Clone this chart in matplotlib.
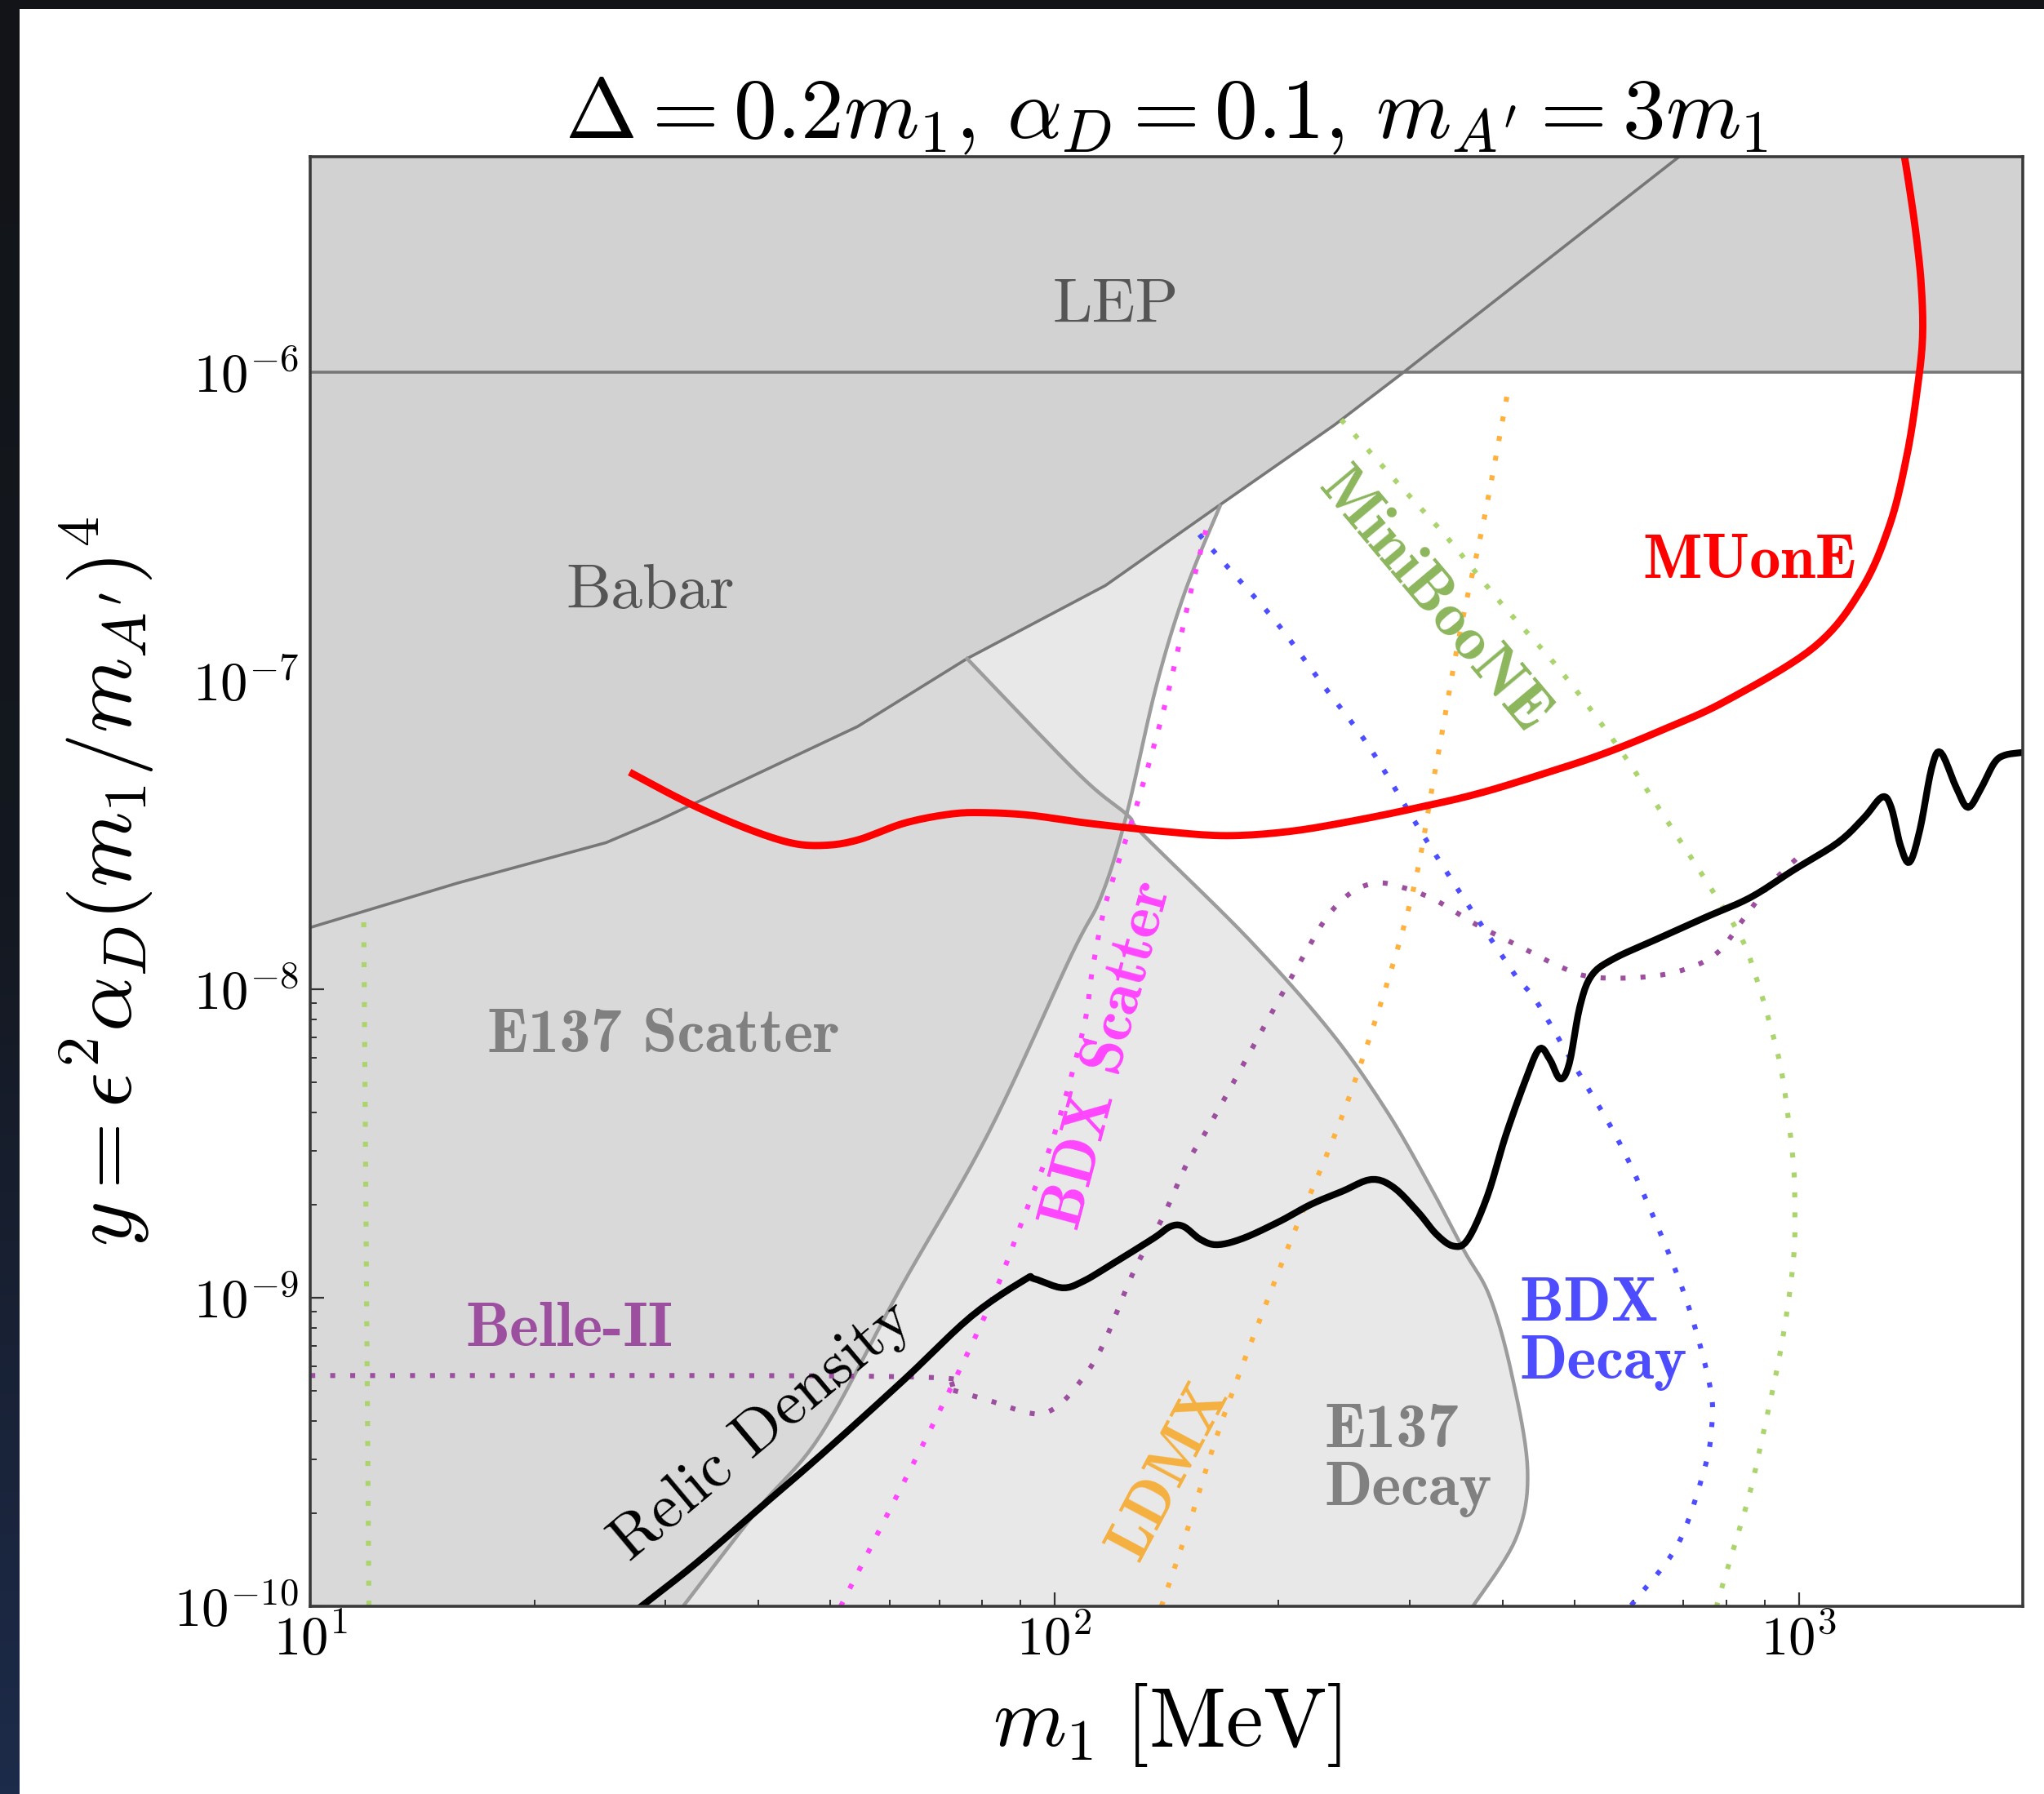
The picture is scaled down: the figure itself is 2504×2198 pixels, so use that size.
import numpy as np
import matplotlib.pyplot as plt
from matplotlib.patches import Rectangle
from matplotlib.colors import LinearSegmentedColormap
from matplotlib.ticker import FuncFormatter, LogLocator

plt.rcParams['mathtext.fontset'] = 'cm'
plt.rcParams['font.family'] = 'cmr10'
plt.rcParams['axes.unicode_minus'] = False

# --- limits (m1 in MeV, y dimensionless) ---
xlim = (10, 2000)
ylim = (1e-10, 5e-6)

# --- existing bounds ---
lep_y = 1e-6
babar_m = [10, 15.77, 24.97, 29.35, 54.39, 76.3, 117.1, 164.2, 237.9, 292.4, 692.6]
babar_y = [1.587e-8, 2.211e-8, 2.99e-8, 3.528e-8, 7.115e-8, 1.181e-7, 2.039e-7,
           3.622e-7, 6.76e-7, 9.88e-7, 5.03e-6]

e137s_m = [31.69, 40.05, 48.59, 62.14, 81.42, 105.4, 115.6, 124.8, 136.9, 149.7, 166.9]
e137s_y = [1e-10, 2.077e-10, 3.62e-10, 1.078e-9, 3.404e-9, 1.293e-8, 2.005e-8,
           3.633e-8, 9.54e-8, 1.941e-7, 3.693e-7]

e137d_m = [76.3, 108.0, 125.4, 131.6, 182.4, 235.1, 279.8, 319.5, 354.7, 384.6,
           411.8, 432.2, 416.9, 364.9]
e137d_y = [1.181e-7, 4.962e-8, 3.668e-8, 3.17e-8, 1.454e-8, 7.278e-9, 4.016e-9,
           2.305e-9, 1.43e-9, 1.007e-9, 5.61e-10, 2.755e-10, 1.66e-10, 1e-10]

# --- projections (dotted) ---
belle_m = [10, 62.9, 71.55, 81.42, 92.6, 98.8, 105.4, 115.2, 127.9, 139.8, 150.9, 162.9,
           201.7, 215.1, 232.3, 250.8, 270.8, 292.4, 324.7, 369.3, 420.3, 478.1, 528.8,
           618.9, 704.0, 778.7, 844.1, 915.2, 1012]
belle_y = [5.6e-10, 5.55e-10, 5.09e-10, 4.66e-10, 4.23e-10, 4.31e-10, 4.94e-10, 6.75e-10,
           1.224e-9, 1.825e-9, 2.748e-9, 3.752e-9, 9.56e-9, 1.256e-8, 1.716e-8, 2.065e-8,
           2.211e-8, 2.147e-8, 1.948e-8, 1.619e-8, 1.384e-8, 1.184e-8, 1.096e-8, 1.096e-8,
           1.162e-8, 1.319e-8, 1.699e-8, 2.189e-8, 2.766e-8]

bdxs_m = [51.6, 59.7, 69.85, 81.42, 90.05, 100.0, 109.3, 112.4, 116.5, 121.4, 129.5,
          141.4, 152.7, 160.3]
bdxs_y = [1e-10, 1.997e-10, 4.23e-10, 9.22e-10, 1.72e-9, 3.404e-9, 7.42e-9, 1.151e-8,
          1.801e-8, 2.509e-8, 4.084e-8, 8.73e-8, 1.98e-7, 3.19e-7]

bdxd_m = [156.5, 170.3, 198.5, 228.6, 264.3, 308.0, 350.4, 398.7, 420.3, 444.6, 499.8,
          570.9, 634.0, 707.0, 760.2, 763.3, 745.1, 687.3, 601.6, 594.5]
bdxd_y = [2.981e-7, 2.36e-7, 1.552e-7, 9.82e-8, 6.15e-8, 3.36e-8, 2.065e-8, 1.293e-8,
          1.075e-8, 9.11e-9, 5.65e-9, 3.273e-9, 1.897e-9, 9.78e-10, 5.14e-10, 3.726e-10,
          2.729e-10, 1.58e-10, 1.04e-10, 1e-10]

ldmx_m = [139.2, 150.9, 168.9, 205.0, 248.8, 298.4, 324.7, 350.4, 378.4, 408.5]
ldmx_y = [1e-10, 1.777e-10, 4.15e-10, 1.416e-9, 4.47e-9, 1.784e-8, 5.11e-8, 1.422e-7,
          3.417e-7, 9.23e-7]

mb_low_m = [11.80, 11.99]
mb_low_y = [1.65e-8, 1e-10]
mb_m = [242.8, 285.4, 336.6, 398.7, 478.1, 570.9, 649.4, 760.2, 837.3, 871.9, 907.8,
        945.2, 968.3, 984.0, 987.9, 984.0, 948.9, 893.3, 861.4, 827.3, 785.0, 775.7]
mb_y = [7.03e-7, 4.533e-7, 2.923e-7, 1.779e-7, 1.082e-7, 6.15e-8, 3.852e-8, 2.147e-8,
        1.468e-8, 1.139e-8, 8.26e-9, 5.65e-9, 3.826e-9, 2.694e-9, 2.031e-9, 1.336e-9,
        7.09e-10, 3.514e-10, 2.379e-10, 1.693e-10, 1.113e-10, 1e-10]

muone_m = [26.86, 32.07, 38.14, 44.11, 48.98, 54.39, 62.88, 72.42, 80.44, 92.61, 110.6,
           140.3, 170.3, 206.7, 250.8, 304.4, 369.3, 448.2, 543.9, 660.0, 801.1,
           1050, 1214, 1326, 1398, 1443, 1467, 1461, 1437, 1404, 1381]
muone_y = [5.06e-8, 4.04e-8, 3.36e-8, 2.99e-8, 2.93e-8, 3.05e-8, 3.46e-8, 3.70e-8,
           3.74e-8, 3.67e-8, 3.46e-8, 3.25e-8, 3.15e-8, 3.25e-8, 3.51e-8, 3.86e-8,
           4.30e-8, 4.95e-8, 5.78e-8, 6.98e-8, 8.65e-8,
           1.29e-7, 1.98e-7, 3.22e-7, 5.40e-7, 8.79e-7, 1.30e-6, 1.92e-6, 2.83e-6,
           4.18e-6, 5.33e-6]

# --- relic density target ---
relic_m = [27.85, 33.0, 40.05, 48.59, 62.9, 77.25, 91.1, 93.8, 102.4, 109.3, 119.4,
           135.9, 143.2, 149.1, 157.1, 165.5, 179.4, 200.9, 221.3, 243.8, 266.5, 285.4,
           308.0, 326.0, 343.5, 359.2, 381.5, 403.6, 428.7, 448.2, 462.9, 478.1, 491.8,
           507.9, 526.6, 563.9, 644.2, 751.0, 861.4, 984.0, 1128.6, 1223.6, 1294.5,
           1331.4, 1369.6, 1408.9, 1455.1, 1508.7, 1552, 1629, 1689, 1759, 1831, 1891, 1993]
relic_y = [1.0e-10, 1.38e-10, 2.07e-10, 3.10e-10, 5.45e-10, 8.70e-10, 1.143e-9,
           1.154e-9, 1.078e-9, 1.132e-9, 1.285e-9, 1.561e-9, 1.704e-9, 1.704e-9, 1.546e-9,
           1.487e-9, 1.561e-9, 1.772e-9, 2.011e-9, 2.217e-9, 2.420e-9, 2.283e-9, 1.897e-9,
           1.607e-9, 1.472e-9, 1.546e-9, 2.132e-9, 3.339e-9, 5.024e-9, 6.412e-9, 5.932e-9,
           5.125e-9, 5.760e-9, 8.76e-9, 1.107e-8, 1.256e-8, 1.454e-8, 1.716e-8, 1.986e-8,
           2.436e-8, 2.99e-8, 3.598e-8, 4.205e-8, 3.889e-8, 2.932e-8, 2.583e-8, 3.296e-8,
           5.21e-8, 5.857e-8, 4.499e-8, 3.889e-8, 4.499e-8, 5.416e-8, 5.742e-8, 5.857e-8]

c_belle = '#9c4f9f'
c_magenta = '#ff45ff'
c_blue = '#4d4dff'
c_orange = '#ffb13d'
c_green_dot = '#abd46c'
c_green_txt = '#8cb65c'


def smooth(xs, ys, n=10):
    # Catmull-Rom through the points, in log-log space
    p = np.column_stack([np.log10(xs), np.log10(ys)])
    p = np.vstack([p[0], p, p[-1]])
    t = np.linspace(0, 1, n, endpoint=False)[:, None]
    segs = []
    for i in range(1, len(p) - 2):
        p0, p1, p2, p3 = p[i - 1], p[i], p[i + 1], p[i + 2]
        segs.append(0.5 * (2 * p1 + (-p0 + p2) * t
                           + (2 * p0 - 5 * p1 + 4 * p2 - p3) * t ** 2
                           + (-p0 + 3 * p1 - 3 * p2 + p3) * t ** 3))
    segs.append(p[-2][None, :])
    out = np.vstack(segs)
    return 10 ** out[:, 0], 10 ** out[:, 1]


fig = plt.figure(figsize=(12.52, 10.99), dpi=200)
fig.patch.set_facecolor('#121519')

# dark backdrop with a faint blue fade, white panel on top
bg = fig.add_axes([0, 0, 1, 1], zorder=-10)
grad = np.linspace(0, 1, 256)[:, None]
bg_cmap = LinearSegmentedColormap.from_list('bg', ['#121417', '#141820', '#1d2b4a'])
bg.imshow(grad, aspect='auto', cmap=bg_cmap, extent=[0, 1, 0, 1], origin='upper')
bg.axis('off')
fig.add_artist(Rectangle((24 / 2504, 0), 1, 1 - 11 / 2198, transform=fig.transFigure,
                         facecolor='white', edgecolor='none', zorder=-5))

ax = fig.add_axes([0.1518, 0.1046, 0.8378, 0.808])
ax.set_xscale('log')
ax.set_yscale('log')
ax.set_xlim(*xlim)
ax.set_ylim(*ylim)
ax.set_facecolor('none')

# E137 regions (overlap comes out darker)
sx, sy = smooth(e137s_m, e137s_y)
ax.fill(np.r_[sx, xlim[0], xlim[0]], np.r_[sy, sy[-1], ylim[0]],
        color='#bababa', alpha=0.32, lw=0, zorder=1)
dx, dy = smooth(e137d_m, e137d_y)
ax.fill(np.r_[dx, xlim[0], xlim[0]], np.r_[dy, ylim[0], dy[0]],
        color='#bababa', alpha=0.32, lw=0, zorder=1)

# Babar and LEP
ax.fill_between(babar_m, babar_y, ylim[1] * 2, color='#d2d2d2', lw=0, zorder=2)
ax.fill_between(xlim, lep_y, ylim[1] * 2, color='#d2d2d2', lw=0, zorder=2)
ax.plot(babar_m, babar_y, color='#777777', lw=1.3, zorder=3)
ax.plot(xlim, [lep_y, lep_y], color='#777777', lw=1.3, zorder=3)
ax.plot(sx, sy, color='#9c9c9c', lw=1.6, zorder=3)
ax.plot(dx, dy, color='#9c9c9c', lw=1.6, zorder=3)

dots = dict(ls=(0, (1, 3)), lw=2.2, zorder=4)
ax.plot(mb_low_m, mb_low_y, color=c_green_dot, **dots)
ax.plot(*smooth(mb_m, mb_y), color=c_green_dot, **dots)
ax.plot(*smooth(belle_m, belle_y), color=c_belle, **dots)
ax.plot(*smooth(bdxs_m, bdxs_y), color=c_magenta, **dots)
ax.plot(*smooth(bdxd_m, bdxd_y), color=c_blue, **dots)
ax.plot(*smooth(ldmx_m, ldmx_y), color=c_orange, **dots)

ax.plot(*smooth(muone_m, muone_y), color='#ff0000', lw=3.2, zorder=5,
        solid_capstyle='butt')
ax.plot(*smooth(relic_m, relic_y, n=6), color='black', lw=3.0, zorder=5,
        solid_joinstyle='round')

# labels
reg = dict(family='cmr10', fontsize=28, ha='center', va='center', zorder=6)
bold = dict(family='cmb10', fontsize=27.5, ha='center', va='center', zorder=6)
ax.text(120.9, 1.64e-6, 'LEP', color='#555555', **reg)
ax.text(28.65, 1.94e-7, 'Babar', color='#555555', **reg)
ax.text(29.84, 7.07e-9, 'E137 Scatter', color='#808080', **bold)
ax.text(22.31, 7.89e-10, 'Belle-II', color=c_belle, **bold)
ax.text(40.5, 3.69e-10, 'Relic Density', color='black', rotation=40,
        rotation_mode='anchor', **reg)
ax.text(118.0, 6.11e-9, 'BDX Scatter', color=c_magenta, rotation=75,
        rotation_mode='anchor', **bold)
ax.text(142.6, 2.75e-10, 'LDMX', color='#f5b040', rotation=62,
        rotation_mode='anchor', **bold)
ax.text(230.4, 2.98e-10, 'E137\nDecay', color='#808080', linespacing=1.05,
        **{**bold, 'ha': 'left'})
ax.text(421.9, 7.66e-10, 'BDX\nDecay', color=c_blue, linespacing=1.05,
        **{**bold, 'ha': 'left'})
ax.text(323.3, 1.814e-7, 'MiniBooNE', color=c_green_txt, rotation=-50,
        rotation_mode='anchor', **bold)
ax.text(858.0, 2.43e-7, 'MUonE', color='#ff0000', **bold)

ax.set_title(r'$\Delta = 0.2m_1,\, \alpha_D = 0.1,\, m_{A^\prime} = 3m_1$',
             fontsize=38, pad=6)
ax.set_xlabel(r'$m_1\ [\mathrm{MeV}]$', fontsize=37)
ax.set_ylabel(r'$y = \epsilon^2\alpha_D(m_1/m_{A^\prime})^4$', fontsize=38)
ax.xaxis.set_label_coords(0.5, -0.052)
ax.yaxis.set_label_coords(-0.09, 0.5)

fmt = FuncFormatter(lambda v, pos: r'$10^{%d}$' % int(round(np.log10(v))))
ax.xaxis.set_major_formatter(fmt)
ax.yaxis.set_major_formatter(fmt)
ax.yaxis.set_major_locator(LogLocator(base=10, numticks=20))
ax.yaxis.set_minor_locator(LogLocator(base=10, subs=np.arange(2, 10), numticks=20))
ax.tick_params(which='both', direction='in', top=False, right=False, color='#333333')
ax.tick_params(which='major', length=6, width=0.8, labelsize=24)
ax.tick_params(axis='y', which='major', pad=5)
ax.tick_params(axis='x', which='major', pad=4)
ax.tick_params(which='minor', length=3, width=0.7)
for s in ax.spines.values():
    s.set_linewidth(1.3)
    s.set_color('#3a3a3a')
    s.set_zorder(7)

fig.savefig('out.png', dpi=200, facecolor=fig.get_facecolor())
